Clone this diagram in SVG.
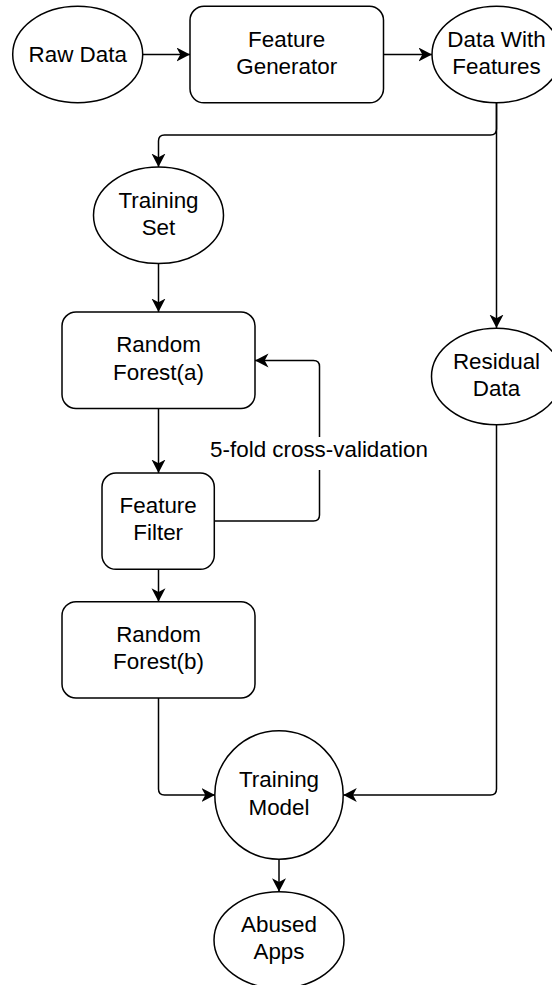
<svg xmlns="http://www.w3.org/2000/svg" width="552" height="985" viewBox="0 0 552 985">
  <style>
    .shape { fill: #ffffff; stroke: #000000; stroke-width: 1.5; }
    .edge { fill: none; stroke: #000000; stroke-width: 1.5; }
    text { font-family: "Liberation Sans", Arial, Helvetica, sans-serif; font-size: 22.4px; fill: #000000; text-anchor: middle; }
  </style>
  <defs>
    <marker id="arrow" markerUnits="userSpaceOnUse" markerWidth="15" markerHeight="15" refX="13.5" refY="7" orient="auto">
      <path d="M0,0 L13.5,7 L0,14 L3.8,7 Z" fill="#000000" stroke="none"/>
    </marker>
  </defs>
  <rect x="0" y="0" width="552" height="985" fill="#ffffff"/>

  <g id="connectors">
    <path class="edge" d="M142.7,54.5 L190,54.5" marker-end="url(#arrow)"/>
    <path class="edge" d="M383.5,54.5 L432,54.5" marker-end="url(#arrow)"/>
    <path class="edge" d="M496.5,102.7 L496.5,129 Q496.5,135 490.5,135 L164.5,135 Q158.5,135 158.5,141 L158.5,167" marker-end="url(#arrow)"/>
    <path class="edge" d="M496.5,102.7 L496.5,328" marker-end="url(#arrow)"/>
    <path class="edge" d="M158.5,263.5 L158.5,312" marker-end="url(#arrow)"/>
    <path class="edge" d="M158.5,408.5 L158.5,473" marker-end="url(#arrow)"/>
    <path class="edge" d="M214.3,521 L313.5,521 Q319.5,521 319.5,515 L319.5,366.5 Q319.5,360.5 313.5,360.5 L255,360.5" marker-end="url(#arrow)"/>
    <path class="edge" d="M158.5,569.3 L158.5,601.7" marker-end="url(#arrow)"/>
    <path class="edge" d="M158.5,698 L158.5,789 Q158.5,795 164.5,795 L215,795" marker-end="url(#arrow)"/>
    <path class="edge" d="M496.5,425 L496.5,789 Q496.5,795 490.5,795 L343.3,795" marker-end="url(#arrow)"/>
    <path class="edge" d="M279,859.3 L279,891.7" marker-end="url(#arrow)"/>
    <g id="edge-label">
      <rect x="206" y="437" width="226" height="33" fill="#ffffff" stroke="none"/>
      <text x="319" y="456.5">5-fold cross-validation</text>
    </g>
  </g>

  <g id="raw-data">
    <ellipse class="shape" cx="77.7" cy="54.5" rx="65" ry="48.2"/>
    <text x="77.7" y="62">Raw Data</text>
  </g>
  <g id="feature-generator">
    <rect class="shape" x="190" y="6.3" width="193.5" height="96.5" rx="14" ry="14"/>
    <text x="286.7" y="46.5">Feature<tspan x="286.7" dy="27.3">Generator</tspan></text>
  </g>
  <g id="data-with-features">
    <ellipse class="shape" cx="496.5" cy="54.5" rx="64.5" ry="48.2"/>
    <text x="496.5" y="46.5">Data With<tspan x="496.5" dy="27.3">Features</tspan></text>
  </g>
  <g id="training-set">
    <ellipse class="shape" cx="158.5" cy="215.3" rx="65" ry="48.3"/>
    <text x="158.5" y="207.5">Training<tspan x="158.5" dy="27.3">Set</tspan></text>
  </g>
  <g id="random-forest-a">
    <rect class="shape" x="62" y="312" width="193" height="96.5" rx="14" ry="14"/>
    <text x="158.5" y="352.3">Random<tspan x="158.5" dy="27.3">Forest(a)</tspan></text>
  </g>
  <g id="feature-filter">
    <rect class="shape" x="102" y="473" width="112.3" height="96.3" rx="14" ry="14"/>
    <text x="158.2" y="513">Feature<tspan x="158.2" dy="27.3">Filter</tspan></text>
  </g>
  <g id="random-forest-b">
    <rect class="shape" x="62" y="601.7" width="193" height="96.3" rx="14" ry="14"/>
    <text x="158.5" y="641.8">Random<tspan x="158.5" dy="27.3">Forest(b)</tspan></text>
  </g>
  <g id="residual-data">
    <ellipse class="shape" cx="496.5" cy="376.5" rx="65" ry="48.3"/>
    <text x="496.5" y="368.5">Residual<tspan x="496.5" dy="27.3">Data</tspan></text>
  </g>
  <g id="training-model">
    <ellipse class="shape" cx="279" cy="795" rx="64.2" ry="64.2"/>
    <text x="279" y="787.3">Training<tspan x="279" dy="27.3">Model</tspan></text>
  </g>
  <g id="abused-apps">
    <ellipse class="shape" cx="279" cy="940" rx="65" ry="48.3"/>
    <text x="279" y="931.8">Abused<tspan x="279" dy="27.3">Apps</tspan></text>
  </g>
</svg>
